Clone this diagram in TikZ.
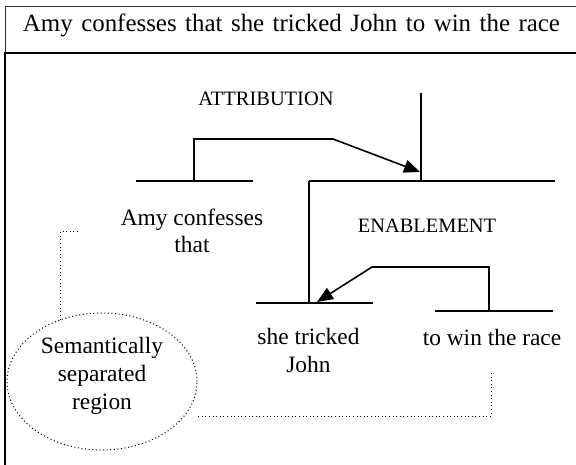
\documentclass[tikz,border=0pt]{standalone}
\usepackage{fontspec}
\setmainfont{Liberation Serif}
\usetikzlibrary{arrows.meta,shapes.geometric}
\begin{document}
\begin{tikzpicture}[x=1bp,y=-1bp,
  bar/.style={line width=1.6bp},
  link/.style={line width=1.6bp, -{Triangle[length=16bp,width=13bp]}},
  guide/.style={line width=1bp, dash pattern=on 1bp off 2.6bp},
  word/.style={inner sep=0pt, align=center, font=\fontsize{23.5}{28}\selectfont},
  relation/.style={inner sep=0pt, font=\fontsize{20.5}{24}\selectfont}]
\useasboundingbox (0,0) rectangle (576,465);

% outer frame with the sentence as its heading
\draw[line width=1bp, black!80] (5,53) -- (5,7) -- (590,7);
\draw[line width=2bp] (590,53) -- (5,53) -- (5,480);
\node[anchor=base, inner sep=0pt, font=\fontsize{25}{28}\selectfont] (title) at (291.5,32)
  {\makebox[537bp][s]{Amy confesses that she tricked John to win the race}};

% tree skeleton
\coordinate (root) at (421,93);
\coordinate (rootfoot) at (421,181);
\coordinate (enL) at (309,181);
\coordinate (enR) at (555,181);
\coordinate (amyL) at (136,181);
\coordinate (amyR) at (253,181);
\coordinate (amyStem) at (194,181);
\coordinate (atBend) at (333,139);
\coordinate (atTip) at (420,172);
\coordinate (enFoot) at (309,303);
\coordinate (sheL) at (256,303);
\coordinate (sheR) at (373,303);
\coordinate (winL) at (435,311);
\coordinate (winR) at (553,311);
\coordinate (winStem) at (489,311);
\coordinate (enBend) at (372,267);
\coordinate (enTip) at (317,302);

\draw[bar] (root) -- (rootfoot);
\draw[bar] (enL) -- (enR);
\draw[bar] (amyL) -- (amyR);
\draw[bar] (enL) -- (enFoot);
\draw[bar] (sheL) -- (sheR);
\draw[bar] (winL) -- (winR);
\draw[link] (amyStem) |- (atBend) -- (atTip);
\draw[link] (winStem) |- (enBend) -- (enTip);

% relation names and text spans (base = baseline of the last line)
\node[relation, anchor=base] (attr) at (266,106) {ATTRIBUTION};
\node[relation, anchor=base] (enab) at (427,233) {ENABLEMENT};
\node[word, anchor=base] (amy) at (192,253) {Amy confesses\\that};
\node[word, anchor=base] (she) at (308.5,372) {she tricked\\John};
\node[word, anchor=base] (win) at (492,345) {to win the race};

% separated region
\node[guide, draw, ellipse, minimum width=190bp, minimum height=137bp, inner sep=0pt] (region) at (102,381.5) {};
\node[word, anchor=base] (regiontext) at (102,409) {Semantically\\separated\\region};

\coordinate (amyGuide) at (78,232);
\coordinate (winGuide) at (491,373);
\coordinate (regionGuide) at (197,416);
\draw[guide] (amyGuide) -| (region.124);
\draw[guide] (winGuide) |- (regionGuide);
\end{tikzpicture}
\end{document}
